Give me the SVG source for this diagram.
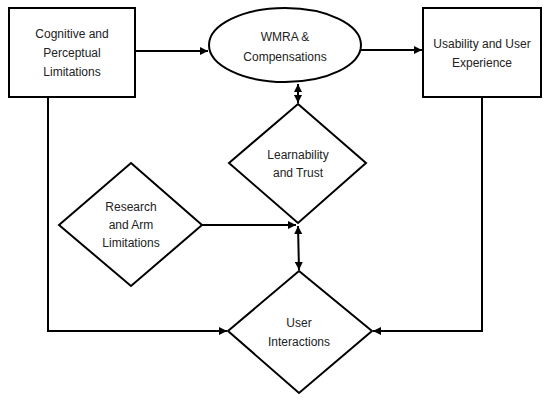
<svg xmlns="http://www.w3.org/2000/svg" width="550" height="400" viewBox="0 0 550 400">
<style>
.shape{fill:#fff;stroke:#000;stroke-width:2}
.conn{fill:none;stroke:#000;stroke-width:2}
text{font-family:"Liberation Sans",Arial,sans-serif;font-size:12px;fill:#222;text-anchor:middle;dominant-baseline:central}
</style>
<defs>
<marker id="arr" viewBox="0 0 10 10" refX="10" refY="5" markerWidth="4" markerHeight="4" orient="auto-start-reverse" markerUnits="strokeWidth">
<path d="M0,0 L10,5 L0,10 z" fill="#000"/>
</marker>
</defs>
<g id="connectors">
<line class="conn" x1="135" y1="51" x2="208" y2="51" marker-end="url(#arr)"/>
<line class="conn" x1="361" y1="50" x2="422" y2="50" marker-end="url(#arr)"/>
<line class="conn" x1="298" y1="84" x2="298" y2="103" marker-start="url(#arr)" marker-end="url(#arr)"/>
<line class="conn" x1="202" y1="225" x2="296" y2="225" marker-end="url(#arr)"/>
<line class="conn" x1="299" y1="270" x2="298" y2="226" marker-start="url(#arr)" marker-end="url(#arr)"/>
<polyline class="conn" points="48,97 48,331 227,331" marker-end="url(#arr)"/>
<polyline class="conn" points="482,97 482,331 373,331" marker-end="url(#arr)"/>
</g>
<g id="cognitive">
<rect class="shape" x="9" y="8" width="126" height="89"/>
<text x="72" y="34">Cognitive and</text>
<text x="72" y="53">Perceptual</text>
<text x="72" y="72">Limitations</text>
</g>
<g id="wmra">
<ellipse class="shape" cx="285" cy="45" rx="76" ry="37"/>
<text x="285" y="37">WMRA &amp;</text>
<text x="285" y="57">Compensations</text>
</g>
<g id="usability">
<rect class="shape" x="423" y="8" width="118" height="89"/>
<text x="482" y="44">Usability and User</text>
<text x="482" y="63">Experience</text>
</g>
<g id="learnability">
<polygon class="shape" points="298,104 366,163 298,223 229,163"/>
<text x="298" y="155">Learnability</text>
<text x="298" y="173">and Trust</text>
</g>
<g id="research">
<polygon class="shape" points="131,163 202,225 131,286 59,225"/>
<text x="131" y="207">Research</text>
<text x="131" y="225">and Arm</text>
<text x="131" y="243">Limitations</text>
</g>
<g id="interactions">
<polygon class="shape" points="299,271 372,331 299,393 228,331"/>
<text x="299" y="323">User</text>
<text x="299" y="342">Interactions</text>
</g>
</svg>
